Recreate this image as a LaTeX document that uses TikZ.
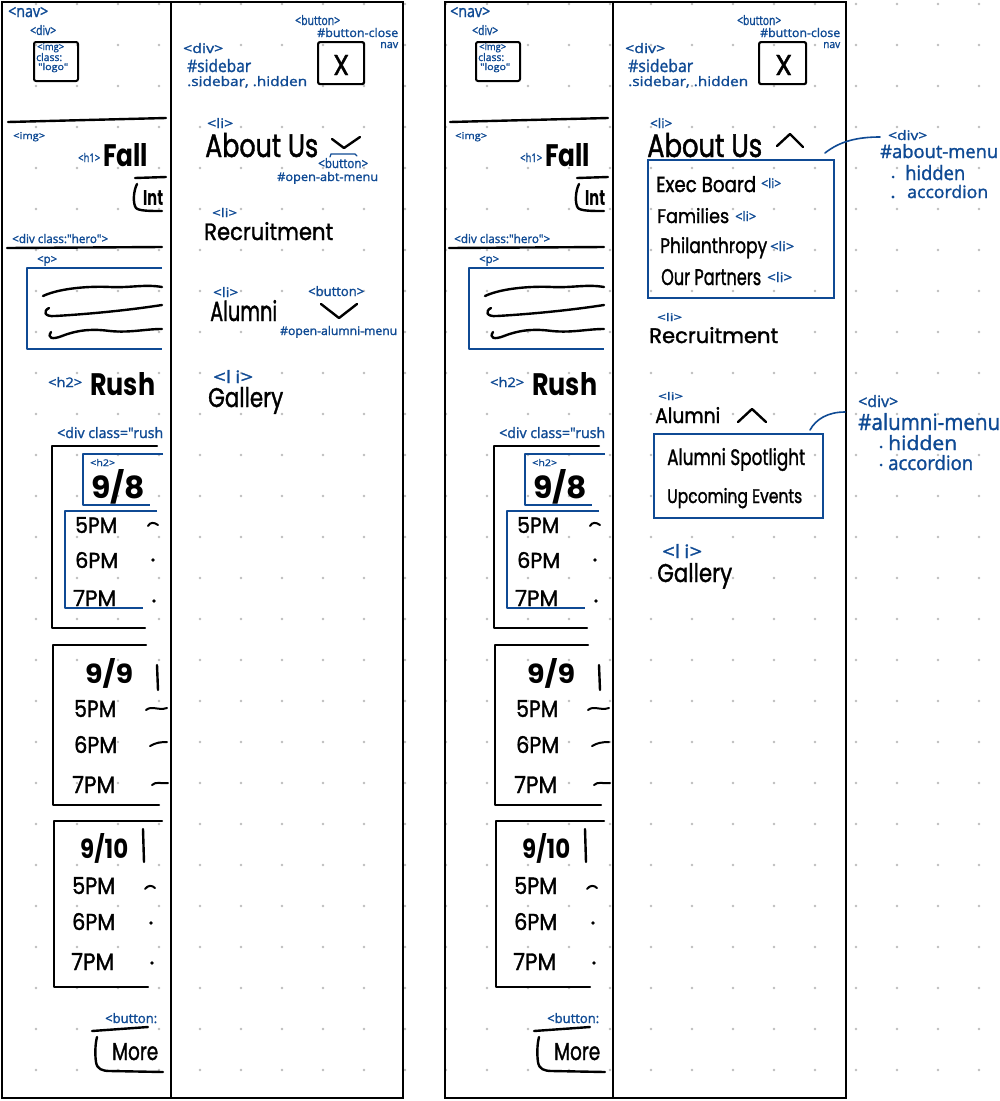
\documentclass[tikz,border=0pt]{standalone}
\usepackage{fontspec}
\setmainfont{Open Sans}
\newfontfamily\tagfont{Open Sans}[FakeBold=1.5]
\newfontfamily\handfont{Poppins}[FakeBold=1.5]
\newfontfamily\handplain{Poppins}
\usepackage{graphicx}
\definecolor{tagblue}{HTML}{0F4A94}
\definecolor{dotgray}{HTML}{BDBDBD}
\newcommand\T[6]{\node[#1] (#2) at (#3) {\resizebox{#4pt}{#5pt}{#6}};}
\tikzset{
  tag/.style={text=tagblue, inner sep=0pt, anchor=base west, font=\tagfont},
  hw/.style={text=black, inner sep=0pt, anchor=base west, font=\handfont},
  hwb/.style={hw, font=\handplain\bfseries},
  framel/.style={line width=2.8pt, black},
  ink/.style={line width=2.4pt, black, line cap=round, line join=round},
  thinink/.style={line width=2pt, black, line cap=round, line join=round},
  blueink/.style={line width=1.8pt, tagblue, line join=round},
  bluebox/.style={draw=tagblue, line width=1.8pt, inner sep=0pt, anchor=north west},
  blackbox/.style={draw=black, line width=2.2pt, inner sep=0pt, anchor=north west, rounded corners=2pt},
}
\newcommand\navstrip[1]{%
\T{tag}{#1nav}{8,17}{40}{10}{<nav>}
\T{tag}{#1div}{30,35}{26}{10}{<div>}
\node[blackbox, line width=2pt, minimum width=44pt, minimum height=39pt] (#1logo) at (33,41) {};
\T{tag}{#1logoa}{37,50}{27}{7}{<img>}
\T{tag}{#1logob}{36,61}{26}{8}{class:}
\T{tag}{#1logoc}{38,70}{30}{7}{"logo"}
\draw[ink] (8,122) -- (166,118);
\T{tag}{#1img}{13,139}{32}{7}{<img>}
\T{tag}{#1hone}{78,162}{22}{9}{<h1>}
\T{hwb}{#1fall}{103,166}{45}{23}{Fall}
\draw[ink] (135,178) -- (166,177);
\draw[ink] (137,184) .. controls (133,192) and (133,204) .. (136,208) .. controls (139,211) and (150,211) .. (162,211);
\T{hwb}{#1int}{143,205}{20}{15}{Int}
\T{tag}{#1hero}{12,243}{96}{9}{<div class:"hero">}
\draw[ink] (7,248) -- (162,247);
\T{tag}{#1p}{37,263}{20}{7}{<p>}
\draw[blueink] (162,268) -- (27,268) -- (27,349) -- (162,349);
\draw[ink] (43,296) .. controls (60,288) and (90,286) .. (110,287) .. controls (130,288) and (145,284) .. (162,287);
\draw[ink] (49,308) .. controls (43,311) and (44,317) .. (55,316) .. controls (90,314) and (130,310) .. (162,305);
\draw[ink] (51,332) .. controls (47,338) and (52,340) .. (62,336) .. controls (80,329) and (95,329) .. (110,331) .. controls (130,333) and (145,329) .. (162,329);
\T{tag}{#1htwo}{48,387}{34}{10}{<h2>}
\T{hwb}{#1rush}{90,395}{65}{23}{Rush}
\T{tag}{#1rushdiv}{57,438}{106}{11}{<div class="rush}
% day 1
\draw[ink] (157,446) -- (52,446) -- (52,628) -- (145,628);
\draw[blueink] (163,454) -- (83,454) -- (83,505) -- (150,505);
\T{tag}{#1htwob}{90,466}{25}{7}{<h2>}
\T{hwb}{#1dA}{91,498}{54}{29}{9/8}
\draw[blueink] (157,511) -- (65,511) -- (65,608) -- (143,608);
\T{hw}{#1aFive}{75,533}{42}{16}{5PM}
\T{hw}{#1aSix}{75,568}{43}{16}{6PM}
\T{hw}{#1aSeven}{73,606}{43}{16}{7PM}
\draw[thinink] (148,526) .. controls (150,522) and (154,522) .. (158,525);
\fill[black] (153,560) circle (1.8pt);
\fill[black] (154,601) circle (1.8pt);
% day 2
\draw[ink] (146,645) -- (53,645) -- (53,805) -- (159,805);
\T{hwb}{#1dB}{85,683}{48}{25}{9/9}
\draw[ink] (157,665) -- (158,690);
\T{hw}{#1bFive}{74,717}{42}{17}{5PM}
\T{hw}{#1bSix}{74,753}{43}{17}{6PM}
\T{hw}{#1bSeven}{72,793}{43}{17}{7PM}
\draw[thinink] (146,710) .. controls (152,705) and (158,711) .. (167,708);
\draw[thinink] (150,746) .. controls (155,743) and (160,742) .. (167,742);
\draw[thinink] (152,785) .. controls (156,781) and (161,784) .. (168,783);
% day 3
\draw[ink] (162,821) -- (54,821) -- (54,987) -- (148,987);
\T{hwb}{#1dC}{80,858}{48}{25}{9/10}
\draw[ink] (143,829) -- (144,862);
\T{hw}{#1cFive}{72,894}{43}{17}{5PM}
\T{hw}{#1cSix}{72,930}{43}{17}{6PM}
\T{hw}{#1cSeven}{71,970}{43}{17}{7PM}
\draw[thinink] (145,889) .. controls (148,885) and (152,885) .. (155,888);
\fill[black] (151,923) circle (1.8pt);
\fill[black] (152,963) circle (1.8pt);
% more button
\T{tag}{#1button}{105,1023}{52}{10}{<button:}
\draw[ink] (92,1031) -- (148,1027);
\draw[ink] (97,1037) .. controls (95,1045) and (95,1055) .. (96,1062) .. controls (97,1069) and (102,1071) .. (110,1071) -- (163,1072);
\T{hw}{#1more}{112,1060}{46}{17}{More}
}
\begin{document}
\begin{tikzpicture}[x=1pt,y=-1pt]
\useasboundingbox (0,0) rectangle (1000,1101);
\fill[white] (0,0) rectangle (1000,1101);
% dot grid
\foreach \i in {0,...,23}{\foreach \j in {0,...,26}{\fill[dotgray] ({36+41*\i},{4+41*\j}) circle (1.4pt);}}
% frames
\draw[framel] (2,2) rectangle (403,1098);
\draw[framel] (171,2) -- (171,1098);
\draw[framel] (445,2) rectangle (846,1098);
\draw[framel] (613,2) -- (613,1098);
% nav strips
\navstrip{L}
\begin{scope}[shift={(442,0)}]
\navstrip{R}
\end{scope}
% ===== left sidebar (closed menus)
\T{tag}{Lbtn}{295,25}{45}{10}{<button>}
\T{tag}{Lbtnid}{317,37}{81}{9}{\#button-close}
\T{tag}{Lbtnnav}{380,48}{18}{6}{nav}
\node[blackbox, minimum width=46pt, minimum height=42pt] (LXbox) at (317,41) {};
\T{hw}{LX}{333,75}{16}{20}{X}
\T{tag}{Lsdiv}{183,53}{40}{10}{<div>}
\T{tag}{Lsid}{187,72}{64}{13}{\#sidebar}
\T{tag}{Lscls}{187,86}{120}{10}{.sidebar, .hidden}
\T{tag}{Lliab}{207,128}{26}{10}{<li>}
\T{hw}{Labout}{205,157}{113}{24}{About Us}
\draw[ink] (332,139) -- (344,148) -- (360,137);
\draw[line width=1.2pt, tagblue, line cap=round] (330,157) -- (331,154) -- (355,154) -- (357,156);
\T{tag}{Labtbtn}{318,168}{50}{10}{<button>}
\T{tag}{Labtid}{277,181}{101}{9}{\#open-abt-menu}
\T{tag}{Llirec}{212,217}{25}{9}{<li>}
\T{hw}{Lrec}{204,240}{129}{18}{Recruitment}
\T{tag}{Llialu}{213,297}{25}{10}{<li>}
\T{hw}{Lalu}{210,321}{67}{21}{Alumni}
\T{tag}{Lalubtn}{308,296}{56}{10}{<button>}
\draw[ink] (321,304) -- (339,318) -- (357,304);
\T{tag}{Laluid}{280,335}{117}{9}{\#open-alumni-menu}
\T{tag}{Lligal}{213,383}{40}{13}{<l\,i>}
\T{hw}{Lgal}{208,407}{75}{20}{Gallery}
% ===== right sidebar (open menus)
\T{tag}{Rbtn}{737,25}{44}{10}{<button>}
\T{tag}{Rbtnid}{760,37}{80}{9}{\#button-close}
\T{tag}{Rbtnnav}{823,48}{17}{6}{nav}
\node[blackbox, minimum width=47pt, minimum height=42pt] (RXbox) at (758,41) {};
\T{hw}{RX}{775,75}{17}{20}{X}
\T{tag}{Rsdiv}{625,53}{40}{10}{<div>}
\T{tag}{Rsid}{628,72}{65}{13}{\#sidebar}
\T{tag}{Rscls}{628,86}{120}{10}{.sidebar, .hidden}
\T{tag}{Rliab}{650,128}{22}{10}{<li>}
\T{hw}{Rabout}{647,157}{115}{24}{About Us}
\draw[ink] (777,146) -- (790,134) -- (803,147);
\node[bluebox, minimum width=186pt, minimum height=138pt] (aboutbox) at (647,159) {};
\T{hw}{Rexec}{656,192}{100}{16}{Exec Board}
\T{tag}{Rliexec}{761,188}{20}{10}{<li>}
\T{hw}{Rfam}{657,223}{72}{15}{Families}
\T{tag}{Rlifam}{735,221}{21}{10}{<li>}
\T{hw}{Rphil}{660,253}{107}{16}{Philanthropy}
\T{tag}{Rliphil}{770,251}{24}{10}{<li>}
\T{hw}{Rpart}{661,285}{100}{16}{Our Partners}
\T{tag}{Rlipart}{767,282}{25}{10}{<li>}
\T{tag}{Rabtdiv}{888,140}{39}{10}{<div>}
\T{tag}{Rabtid}{880,158}{118}{14}{\#about-menu}
\fill[tagblue] (893,177) circle (1.5pt);
\T{tag}{Rabthid}{905,180}{60}{15}{hidden}
\fill[tagblue] (893,197) circle (1.7pt);
\T{tag}{Rabtacc}{907,198}{81}{13}{accordion}
\coordinate (abtS) at (825,153);
\coordinate (abtE) at (880,137);
\draw[line width=1.6pt, tagblue, line cap=round] (abtS) .. controls (840,141) and (858,137) .. (abtE);
\T{tag}{Rlirec}{657,321}{25}{8}{<li>}
\T{hw}{Rrec}{649,343}{129}{16}{Recruitment}
\T{tag}{Rlialu}{658,400}{25}{8}{<li>}
\T{hw}{Ralu}{655,423}{65}{16}{Alumni}
\draw[ink] (738,422) -- (752,409) -- (766,422);
\node[bluebox, minimum width=169pt, minimum height=84pt] (alumbox) at (653,433) {};
\T{hw}{Rspot}{667,465}{138}{17}{Alumni Spotlight}
\T{hw}{Revents}{667,503}{135}{15}{Upcoming Events}
\T{tag}{Raludiv}{858,407}{40}{12}{<div>}
\T{tag}{Raluid}{858,430}{142}{17}{\#alumni-menu}
\fill[tagblue] (881,447) circle (1.5pt);
\T{tag}{Raluhid}{888,450}{69}{15}{hidden}
\fill[tagblue] (881,465) circle (1.5pt);
\T{tag}{Raluacc}{888,470}{85}{15}{accordion}
\coordinate (aluS) at (810,430);
\coordinate (aluE) at (845,412);
\draw[line width=1.6pt, tagblue, line cap=round] (aluS) .. controls (816,419) and (828,412) .. (aluE);
\T{tag}{Rligal}{662,558}{40}{14}{<l\,i>}
\T{hw}{Rgal}{657,582}{75}{19}{Gallery}
\end{tikzpicture}
\end{document}
